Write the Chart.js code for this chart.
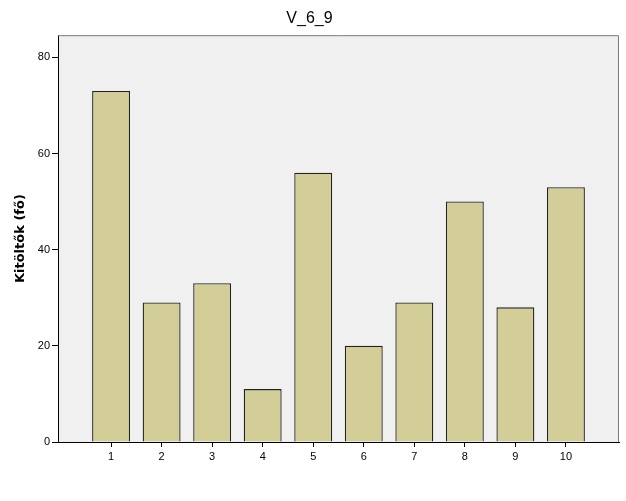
<!DOCTYPE html>
<html>
<head>
<meta charset="utf-8">
<script src="https://cdn.jsdelivr.net/npm/chart.js@4"></script>
<style>
  html, body { margin: 0; padding: 0; background: #fff; }
  #chart { display: block; }
</style>
</head>
<body>
<canvas id="chart" width="626" height="501"></canvas>
<script>
const categories = [1, 2, 3, 4, 5, 6, 7, 8, 9, 10];
const counts = [73, 29, 33, 11, 56, 20, 29, 50, 28, 53];
const yTicks = [0, 20, 40, 60, 80];

// light grey plot area with a darker frame, like the SPSS output
const plotBackground = {
  id: 'plotBackground',
  beforeDraw(chart) {
    const { ctx, chartArea: a } = chart;
    ctx.save();
    ctx.fillStyle = '#f0f0f0';
    ctx.fillRect(a.left, a.top, a.right - a.left, a.bottom - a.top);
    ctx.restore();
  },
  afterDraw(chart) {
    const { ctx, chartArea: a } = chart;
    ctx.save();
    ctx.strokeStyle = '#7a7a7a';
    ctx.lineWidth = 1;
    ctx.beginPath();
    ctx.moveTo(a.left, a.top + 0.5);
    ctx.lineTo(a.right - 0.5, a.top + 0.5);
    ctx.lineTo(a.right - 0.5, a.bottom);
    ctx.stroke();
    ctx.restore();
  },
};

new Chart(document.getElementById('chart'), {
  type: 'bar',
  data: {
    datasets: [
      {
        data: categories.map((c, i) => ({ x: c, y: counts[i] })),
        backgroundColor: '#d3ce97',
        borderColor: '#222',
        borderWidth: 1.3,
        barPercentage: 0.75,
        categoryPercentage: 1,
      },
    ],
  },
  options: {
    responsive: false,
    animation: false,
    layout: { padding: { left: 0, right: 7, top: 0, bottom: 0 } },
    plugins: {
      legend: { display: false },
      tooltip: { enabled: false },
      title: {
        display: true,
        text: 'V_6_9',
        color: '#000',
        font: { family: 'Liberation Sans', size: 16, weight: 'normal' },
        padding: { top: 9, bottom: 7 },
      },
    },
    scales: {
      x: {
        type: 'linear',
        offset: false,
        min: -0.05,
        max: 11.05,
        afterBuildTicks: (scale) => {
          scale.ticks = categories.map((v) => ({ value: v }));
        },
        afterFit: (scale) => { scale.height = 59; },
        grid: { offset: false, drawOnChartArea: false, drawTicks: true, tickLength: 5, color: '#000' },
        border: { display: true, color: '#000' },
        ticks: {
          color: '#000',
          padding: 3,
          maxRotation: 0,
          font: { family: 'Liberation Sans', size: 11 },
        },
      },
      y: {
        min: 0,
        max: 84.6,
        afterBuildTicks: (scale) => {
          scale.ticks = yTicks.map((v) => ({ value: v }));
        },
        afterFit: (scale) => { scale.width = 58; },
        grid: { drawOnChartArea: false, drawTicks: true, tickLength: 6, color: '#000' },
        border: { display: true, color: '#000' },
        ticks: {
          color: '#000',
          padding: 2,
          font: { family: 'Liberation Sans', size: 11 },
        },
        title: {
          display: true,
          text: 'Kitöltők (fő)',
          color: '#000',
          font: { family: 'DejaVu Sans', size: 13, weight: 'bold' },
          padding: { top: 13, bottom: 0 },
        },
      },
    },
  },
  plugins: [plotBackground],
});
</script>
</body>
</html>
